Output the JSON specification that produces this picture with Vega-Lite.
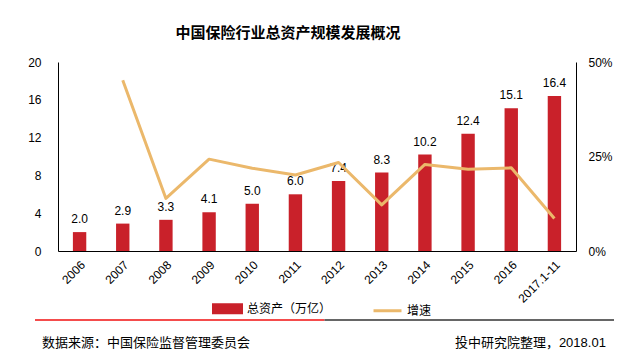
{
  "$schema": "https://vega.github.io/schema/vega-lite/v6.json",
  "background": "white",
  "padding": {"left": 27, "top": 26, "right": 5, "bottom": 5},
  "spacing": 0,
  "resolve": {"legend": {"color": "independent"}, "scale": {"color": "independent"}},
  "config": {
    "view": {"stroke": null},
    "font": "Liberation Sans, Noto Sans CJK SC",
    "axis": {"labelColor": "#000", "labelFontSize": 12, "labelFont": "Liberation Sans", "domainColor": "#000", "grid": false, "ticks": false, "title": null}
  },
  "vconcat": [
    {
      "width": 518,
      "height": 189,
      "title": {"text": "中国保险行业总资产规模发展概况", "fontSize": 15, "fontWeight": "bold", "font": "Noto Sans CJK SC", "color": "#000", "anchor": "middle", "dx": -29, "offset": 15},
      "data": {"values": [
        {"year": "2006", "assets": 2.0, "growth": null},
        {"year": "2007", "assets": 2.9, "growth": 0.452},
        {"year": "2008", "assets": 3.3, "growth": 0.139},
        {"year": "2009", "assets": 4.1, "growth": 0.243},
        {"year": "2010", "assets": 5.0, "growth": 0.219},
        {"year": "2011", "assets": 6.0, "growth": 0.201},
        {"year": "2012", "assets": 7.4, "growth": 0.234},
        {"year": "2013", "assets": 8.3, "growth": 0.122},
        {"year": "2014", "assets": 10.2, "growth": 0.229},
        {"year": "2015", "assets": 12.4, "growth": 0.216},
        {"year": "2016", "assets": 15.1, "growth": 0.220},
        {"year": "2017.1-11", "assets": 16.4, "growth": 0.086}
      ]},
      "encoding": {
        "x": {"field": "year", "type": "nominal", "sort": null,
              "scale": {"paddingInner": 0.69, "paddingOuter": 0.345},
              "axis": {"labelAngle": -45, "labelPadding": 8}}
      },
      "layer": [
        {
          "encoding": {
            "y": {"field": "assets", "type": "quantitative", "scale": {"domain": [0, 20]},
                  "axis": {"values": [0, 4, 8, 12, 16, 20], "labelPadding": 17}}
          },
          "layer": [
            {
              "mark": {"type": "bar"},
              "encoding": {
                "color": {"datum": "总资产（万亿）", "type": "nominal",
                          "scale": {"domain": ["总资产（万亿）", "增速"], "range": ["#C9212A", "#EBB86B"]},
                          "legend": {
                            "orient": "none", "legendX": 154, "legendY": 231,
                            "direction": "horizontal", "title": null,
                            "labelFontSize": 12, "labelFont": "Noto Sans CJK SC", "labelColor": "#000",
                            "symbolSize": 784, "columnPadding": 35, "labelOffset": 4,
                            "encode": {
                              "symbols": {"update": {
                                "shape": {"signal": "datum.label === '增速' ? 'M-1,0L1,0' : 'M-1,-0.28L1,-0.28L1,0.28L-1,0.28Z'"},
                                "fill": {"signal": "datum.label === '增速' ? 'transparent' : '#C9212A'"},
                                "stroke": {"signal": "datum.label === '增速' ? '#EBB86B' : 'transparent'"},
                                "strokeWidth": {"value": 3},
                                "opacity": {"value": 1},
                                "fillOpacity": {"value": 1},
                                "strokeOpacity": {"value": 1}
                              }}
                            }
                          }}
              }
            },
            {
              "mark": {"type": "text", "baseline": "bottom", "dy": -6, "fontSize": 12, "color": "#000", "font": "Liberation Sans"},
              "encoding": {"text": {"field": "assets", "type": "quantitative", "format": ".1f"}}
            }
          ]
        },
        {
          "mark": {"type": "line", "strokeWidth": 3, "strokeJoin": "round"},
          "encoding": {
            "y": {"field": "growth", "type": "quantitative", "scale": {"domain": [0, 0.5]},
                  "axis": {"orient": "right", "values": [0, 0.25, 0.5], "format": ".0%", "labelPadding": 12}},
            "color": {"datum": "增速", "type": "nominal"}
          }
        }
      ],
      "resolve": {"scale": {"y": "independent"}}
    },
    {
      "width": 556,
      "height": 23,
      "layer": [
        {
          "data": {"values": [{"part": "红", "start": 0, "end": 0.5}]},
          "mark": {"type": "rule", "strokeWidth": 1.5, "color": "#F01010"},
          "encoding": {
            "x": {"field": "start", "type": "quantitative", "scale": {"domain": [0.0397, 1], "zero": false, "nice": false}, "axis": null},
            "x2": {"field": "end"},
            "y": {"datum": 1, "type": "quantitative", "scale": {"domain": [0, 1]}, "axis": null}
          }
        },
        {
          "data": {"values": [{"part": "黑", "start": 0.5, "end": 1}]},
          "mark": {"type": "rule", "strokeWidth": 1.5, "color": "#333333"},
          "encoding": {
            "x": {"field": "start", "type": "quantitative"},
            "x2": {"field": "end"},
            "y": {"datum": 1, "type": "quantitative"}
          }
        },
        {
          "data": {"values": [{"label": "数据来源：中国保险监督管理委员会", "pos": 0.012}]},
          "mark": {"type": "text", "align": "left", "baseline": "middle", "fontSize": 13, "font": "Noto Sans CJK SC", "color": "#000"},
          "encoding": {
            "x": {"field": "pos", "type": "quantitative"},
            "y": {"datum": 0, "type": "quantitative"},
            "text": {"field": "label"}
          }
        },
        {
          "data": {"values": [{"label": "投中研究院整理，2018.01", "pos": 0.986}]},
          "mark": {"type": "text", "align": "right", "baseline": "middle", "fontSize": 13, "color": "#000"},
          "encoding": {
            "x": {"field": "pos", "type": "quantitative"},
            "y": {"datum": 0, "type": "quantitative"},
            "text": {"field": "label"}
          }
        }
      ]
    }
  ]
}
